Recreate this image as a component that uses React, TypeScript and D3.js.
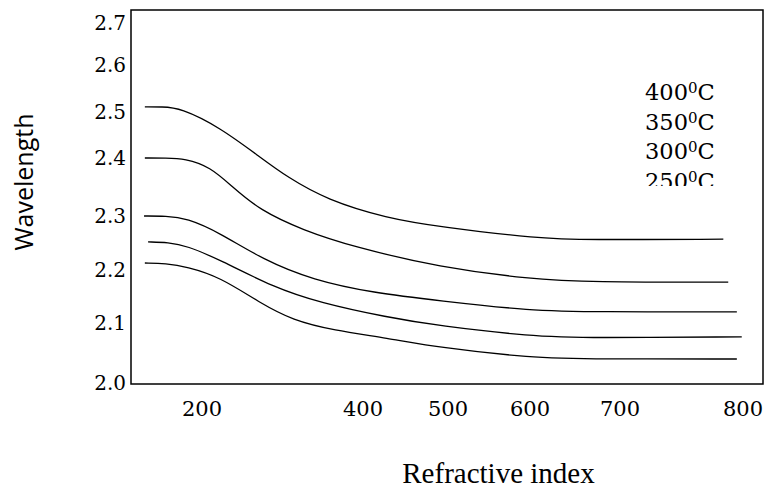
import React from "react";
import * as d3 from "d3";

const W = 767;
const H = 491;

// Axis tick labels (the original figure's ticks are unevenly spaced)
const xTicks = [200, 400, 500, 600, 700, 800];
const yTicks = [2.0, 2.1, 2.2, 2.3, 2.4, 2.5, 2.6, 2.7];

// Legend entries
const legendLabels = ["400", "350", "300", "250"];

// Series: [x, y]
const s400: [number, number][] = [
  [129, 2.511], [150, 2.511], [173, 2.509], [222, 2.467], [272, 2.402], [306, 2.367], [355, 2.328],
  [428, 2.296], [490, 2.28], [611, 2.258], [659, 2.256], [784, 2.257], [784, 2.257],
];
const s350: [number, number][] = [
  [129, 2.4], [155, 2.4], [179, 2.399], [210, 2.385], [238, 2.35], [272, 2.31], [325, 2.274],
  [388, 2.243], [490, 2.205], [600, 2.183], [667, 2.177], [788, 2.177], [788, 2.177],
];
const s300: [number, number][] = [
  [128, 2.3], [155, 2.3], [181, 2.296], [222, 2.269], [276, 2.219], [338, 2.181], [412, 2.157],
  [490, 2.142], [600, 2.123], [674, 2.121], [795, 2.121], [795, 2.121],
];
const s250: [number, number][] = [
  [133, 2.252], [158, 2.251], [181, 2.245], [222, 2.219], [288, 2.168], [347, 2.138], [428, 2.111],
  [490, 2.095], [600, 2.078], [667, 2.075], [799, 2.077], [799, 2.077],
];
const s200: [number, number][] = [
  [129, 2.213], [155, 2.212], [181, 2.206], [222, 2.187], [272, 2.138], [313, 2.105], [363, 2.088],
  [428, 2.075], [490, 2.059], [600, 2.042], [674, 2.04], [795, 2.04], [795, 2.04],
];
const seriesList = [s400, s350, s300, s250, s200];

export default function App() {
  const frame = { left: 131, top: 10, right: 763, bottom: 384 };

  const x = d3
    .scaleLinear()
    .domain(xTicks)
    .range([202, 363, 448, 530, 620, 743]);
  const y = d3
    .scaleLinear()
    .domain(yTicks)
    .range([383, 323, 270, 216, 158, 112, 65, 23]);

  const line = d3
    .line<[number, number]>()
    .x((d) => x(d[0]))
    .y((d) => y(d[1]))
    .curve(d3.curveBasis);

  return (
    <svg
      width={W}
      height={H}
      style={{ position: "absolute", left: 0, top: 0, background: "#fff" }}
    >
      <defs>
        <clipPath id="legclip">
          <rect x={600} y={60} width={160} height={126} />
        </clipPath>
      </defs>
      <rect
        x={frame.left}
        y={frame.top}
        width={frame.right - frame.left}
        height={frame.bottom - frame.top}
        fill="none"
        stroke="#000"
        strokeWidth={1.5}
      />
      {seriesList.map((s, i) => (
        <path key={i} d={line(s) || ""} fill="none" stroke="#000" strokeWidth={1.3} />
      ))}
      {yTicks.map((t) => (
        <text
          key={t}
          x={126}
          y={y(t)}
          dy="0.36em"
          textAnchor="end"
          fontFamily="DejaVu Serif"
          fontSize={20}
          fill="#000"
        >
          {t.toFixed(1)}
        </text>
      ))}
      {xTicks.map((t) => (
        <text
          key={t}
          x={x(t)}
          y={416}
          textAnchor="middle"
          fontFamily="DejaVu Serif"
          fontSize={21}
          fill="#000"
        >
          {t}
        </text>
      ))}
      <g clipPath="url(#legclip)">
        {legendLabels.map((l, i) => (
          <text
            key={l}
            x={645}
            y={100 + i * 29.5}
            fontFamily="DejaVu Serif"
            fontSize={22.5}
            fill="#000"
          >
            {l}
            <tspan fontSize={15} dy={-7}>0</tspan>
            <tspan dy={7}>C</tspan>
          </text>
        ))}
      </g>
      <text
        transform="translate(33,182) rotate(-90)"
        textAnchor="middle"
        fontFamily="Open Sans"
        fontSize={25}
        fill="#000"
      >
        Wavelength
      </text>
      <text
        x={498.5}
        y={483}
        textAnchor="middle"
        fontFamily="Liberation Serif"
        fontSize={29}
        fill="#000"
      >
        Refractive index
      </text>
    </svg>
  );
}
